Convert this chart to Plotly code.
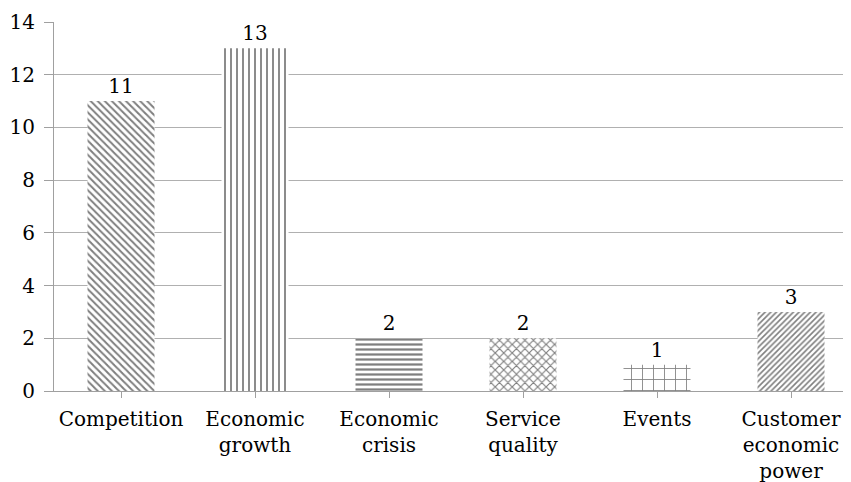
import plotly.graph_objects as go

categories = ["Competition", "Economic<br>growth", "Economic<br>crisis", "Service<br>quality", "Events", "Customer<br>economic<br>power"]
values = [11, 13, 2, 2, 1, 3]
patterns = ["\\", "|", "-", "x", "+", "/"]
pattern_sizes = [5, 6, 5, 6, 11, 4]
pattern_solidity = [0.4, 0.3, 0.45, 0.35, 0.15, 0.4]
y_ticks = [0, 2, 4, 6, 8, 10, 12, 14]

FONT = "DejaVu Serif"
FS = 20
xs = list(range(len(categories)))

fig = go.Figure()
fig.add_trace(go.Bar(
    x=xs,
    y=values,
    width=0.5,
    text=[str(v) for v in values],
    textposition="outside",
    textfont=dict(family=FONT, size=FS, color="black"),
    cliponaxis=False,
    marker=dict(
        color="white",
        line=dict(width=0),
        pattern=dict(shape=patterns, size=pattern_sizes, solidity=pattern_solidity,
                     fgcolor="black", bgcolor="white", fillmode="overlay"),
    ),
))

fig.update_layout(
    template="none",
    width=851, height=482,
    margin=dict(l=46, r=0, t=14, b=99, autoexpand=False),
    plot_bgcolor="white", paper_bgcolor="white",
    showlegend=False,
    font=dict(family=FONT, size=FS, color="black"),
    xaxis=dict(
        tickmode="array",
        tickvals=xs,
        ticktext=categories,
        tickfont=dict(family=FONT, size=FS, color="black"),
        ticklabelstandoff=4,
        range=[-0.5, -0.5 + 805 / 134],
        showline=True, linecolor="#a0a0a0", linewidth=1,
        ticks="outside", tickson="boundaries", ticklen=6, tickcolor="#a0a0a0",
        showgrid=False, automargin=False, zeroline=False,
    ),
    yaxis=dict(
        range=[0, 14],
        tickmode="array",
        tickvals=y_ticks,
        tickfont=dict(family=FONT, size=FS, color="black"),
        ticklabelstandoff=5,
        showline=True, linecolor="#a0a0a0", linewidth=1,
        ticks="outside", ticklen=9, tickcolor="#a0a0a0",
        showgrid=True, gridcolor="#b0b0b0", gridwidth=1,
        zeroline=False, automargin=False,
    ),
)

fig.write_html("out.html")
